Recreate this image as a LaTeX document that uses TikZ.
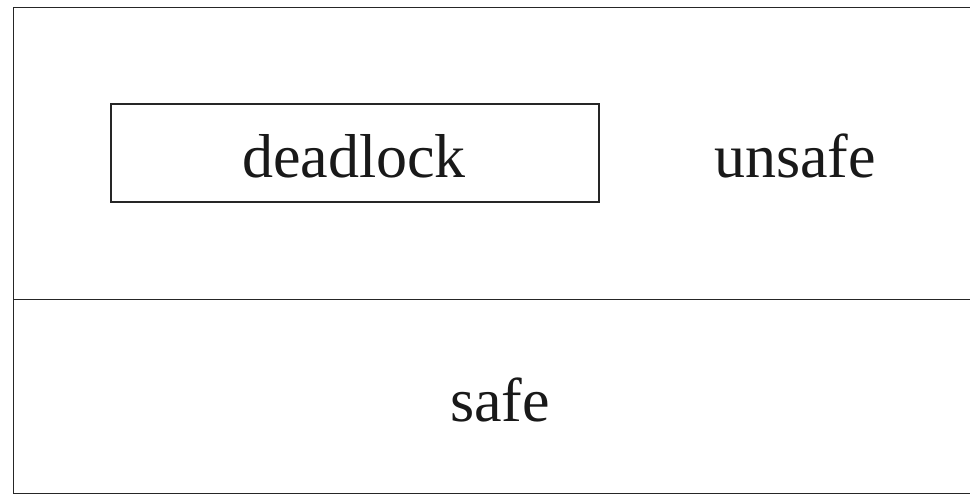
\documentclass[tikz,border=0pt]{standalone}
\usepackage{fontspec}
\setmainfont{Liberation Serif}
\begin{document}
\begin{tikzpicture}[x=1pt,y=1pt,
  frame/.style={line width=1.6pt, draw=black!85},
  label/.style={font=\fontsize{62}{70}\selectfont, text=black!90, inner sep=0pt, anchor=base},
  regionbox/.style={draw=black!85, line width=1.3pt, minimum width=488pt, minimum height=98pt, inner sep=0pt}]
\useasboundingbox (0,0) rectangle (970,495);
% outer frame, open on the right
\coordinate (tr) at (972,487.5);
\coordinate (tl) at (13.5,487.5);
\coordinate (bl) at (13.5,1.5);
\coordinate (br) at (972,1.5);
\draw[frame] (tr) -- (tl) -- (bl) -- (br);
% divider between unsafe and safe regions
\coordinate (dl) at (13.5,195.5);
\coordinate (dr) at (972,195.5);
\draw[frame] (dl) -- (dr);
% deadlock box inside the unsafe region
\node[regionbox] (dbox) at (355,342) {};
\node[label] (dead) at (354,317) {deadlock};
\node[label] (unsafe) at (795,317) {unsafe};
\node[label] (safe) at (500,73) {safe};
\end{tikzpicture}
\end{document}
